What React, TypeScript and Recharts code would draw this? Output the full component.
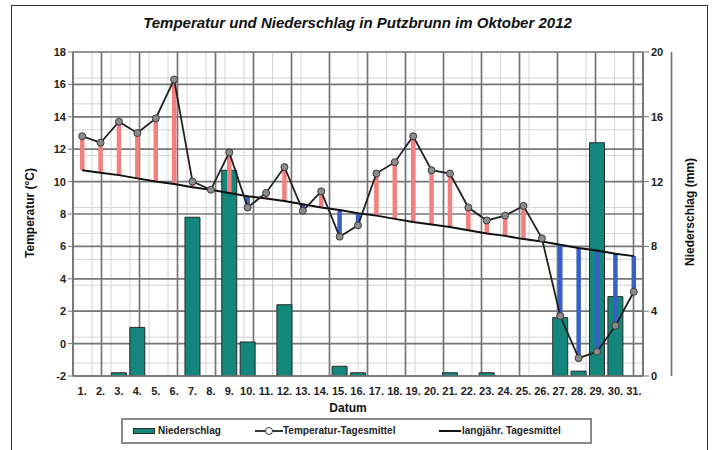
import { ComposedChart, Bar, Line, XAxis, YAxis, CartesianGrid, ErrorBar } from 'recharts';

// Tage im Oktober 2012 (Achsenbeschriftung)
const days = [
  '1.', '2.', '3.', '4.', '5.', '6.', '7.', '8.', '9.', '10.', '11.', '12.', '13.', '14.', '15.', '16.',
  '17.', '18.', '19.', '20.', '21.', '22.', '23.', '24.', '25.', '26.', '27.', '28.', '29.', '30.', '31.',
];

// Temperatur-Tagesmittel (°C)
const temperatur = [
  12.8, 12.4, 13.7, 13.0, 13.9, 16.3, 10.0, 9.5, 11.8, 8.4, 9.3, 10.9, 8.2, 9.4, 6.6, 7.3,
  10.5, 11.2, 12.8, 10.7, 10.5, 8.4, 7.6, 7.9, 8.5, 6.5, 1.7, -0.9, -0.5, 1.1, 3.2,
];

// langjähriges Tagesmittel (°C)
const mittel = [
  10.7, 10.55, 10.4, 10.2, 10.0, 9.85, 9.65, 9.5, 9.3, 9.1, 8.95, 8.8, 8.6, 8.4, 8.25, 8.05,
  7.9, 7.7, 7.5, 7.35, 7.2, 7.0, 6.8, 6.65, 6.45, 6.3, 6.1, 5.9, 5.75, 5.55, 5.4,
];

// Niederschlag (mm)
const niederschlag = [
  0, 0, 0.2, 3.0, 0, 0, 9.8, 0, 12.7, 2.1, 0, 4.4, 0, 0, 0.6, 0.2,
  0, 0, 0, 0, 0.2, 0, 0.2, 0, 0, 0, 3.6, 0.3, 14.4, 4.9, 0,
];

const tempTicks = [-2, 0, 2, 4, 6, 8, 10, 12, 14, 16, 18];
const nsTicks = [0, 4, 8, 12, 16, 20];

// Gitter: Hauptlinien an den Tagesgrenzen, Hilfslinien geviertelt bzw. alle 0,4 °C
const majorXTicks = Array.from({ length: 32 }, (_, i) => i + 0.5);
const minorXTicks = Array.from({ length: 125 }, (_, i) => 0.5 + i * 0.25);
const minorYTicks = Array.from({ length: 51 }, (_, i) => Math.round((-2 + i * 0.4) * 10) / 10);

const chartData = days.map((day, i) => {
  const t = temperatur[i];
  const m = mittel[i];
  return {
    day,
    temp: t,
    mittel: m,
    ns: niederschlag[i],
    // Abweichung vom langjährigen Mittel als Fehlerbalken (rot = wärmer, blau = kälter)
    warm: t > m ? [t - m, 0] : [0, 0],
    kalt: t < m ? [0, m - t] : [0, 0],
  };
});

const FONT = '"Liberation Sans", Arial, sans-serif';
const tickStyle = { fontFamily: FONT, fontSize: 11, fontWeight: 700, fill: '#222' };
const TEAL = '#14877c';
const GRID = '#767676';

export default function App() {
  return (
    <div style={{ position: 'absolute', left: 0, top: 0, width: 715, height: 450, background: '#fff', overflow: 'hidden', fontFamily: FONT }}>
      {/* Rahmen */}
      <div style={{ position: 'absolute', left: 11, top: 5, width: 697, height: 470, boxSizing: 'border-box', borderLeft: '1.5px solid #333', borderTop: '1.5px solid #333', borderRight: '1.5px solid #333' }} />

      <div style={{ position: 'absolute', left: 0, top: 14, width: 715, textAlign: 'center', fontSize: 15, fontWeight: 700, fontStyle: 'italic', color: '#111' }}>
        Temperatur und Niederschlag in Putzbrunn im Oktober 2012
      </div>

      <ComposedChart width={715} height={450} data={chartData} margin={{ top: 52, right: 32, bottom: 44, left: 33 }} barCategoryGap="9%">
        <XAxis xAxisId="minorX" type="number" domain={[0.5, 31.5]} ticks={minorXTicks} allowDataOverflow hide height={0} />
        <XAxis xAxisId="majorX" type="number" domain={[0.5, 31.5]} ticks={majorXTicks} allowDataOverflow hide height={0} />
        <YAxis yAxisId="minorY" type="number" orientation="right" domain={[-2, 18]} ticks={minorYTicks} allowDataOverflow hide width={0} />

        <CartesianGrid xAxisId="minorX" yAxisId="minorY" stroke="#d4d4d4" strokeWidth={1} />
        <CartesianGrid xAxisId="majorX" yAxisId="t" stroke={GRID} strokeWidth={1.7} />

        <XAxis
          dataKey="day"
          interval={0}
          tickLine={false}
          tickSize={9}
          height={30}
          tick={tickStyle}
          axisLine={{ stroke: GRID, strokeWidth: 1.7 }}
        />
        <YAxis
          yAxisId="t"
          domain={[-2, 18]}
          ticks={tempTicks}
          interval={0}
          width={40}
          tickSize={5}
          tick={tickStyle}
          tickLine={{ stroke: GRID }}
          axisLine={{ stroke: GRID, strokeWidth: 1.7 }}
          allowDataOverflow
        />
        <YAxis
          yAxisId="n"
          orientation="right"
          domain={[0, 20]}
          ticks={nsTicks}
          interval={0}
          width={40}
          tickSize={6}
          tick={tickStyle}
          tickLine={{ stroke: GRID }}
          axisLine={{ stroke: GRID, strokeWidth: 1.7 }}
          allowDataOverflow
        />

        <Bar yAxisId="n" dataKey="ns" fill={TEAL} stroke="#2a2a2a" strokeWidth={1} isAnimationActive={false} />

        {/* Abweichungen vom langjährigen Mittel */}
        <Line yAxisId="t" dataKey="temp" stroke="none" dot={false} activeDot={false} legendType="none" isAnimationActive={false}>
          <ErrorBar dataKey="warm" direction="y" width={0} stroke="#f47f7f" strokeWidth={4.5} />
          <ErrorBar dataKey="kalt" direction="y" width={0} stroke="#3a5fc4" strokeWidth={4.5} />
        </Line>

        <Line yAxisId="t" dataKey="mittel" type="linear" stroke="#111" strokeWidth={2} dot={false} activeDot={false} isAnimationActive={false} />
        <Line
          yAxisId="t"
          dataKey="temp"
          type="linear"
          stroke="#222"
          strokeWidth={1.8}
          dot={{ r: 3.5, fill: '#8c8c8c', stroke: '#3a3a3a', strokeWidth: 1 }}
          activeDot={false}
          isAnimationActive={false}
        />
      </ComposedChart>

      {/* Achsentitel */}
      <div style={{ position: 'absolute', left: 30, top: 213, transform: 'translate(-50%, -50%) rotate(-90deg)', whiteSpace: 'nowrap', fontSize: 12, fontWeight: 700, color: '#111' }}>
        Temperatur (°C)
      </div>
      <div style={{ position: 'absolute', left: 690, top: 212, transform: 'translate(-50%, -50%) rotate(-90deg)', whiteSpace: 'nowrap', fontSize: 12, fontWeight: 700, color: '#111' }}>
        Niederschlag (mm)
      </div>
      <div style={{ position: 'absolute', left: 348, top: 408, transform: 'translate(-50%, -50%)', fontSize: 12, fontWeight: 700, color: '#111' }}>
        Datum
      </div>

      {/* Legende */}
      <div style={{ position: 'absolute', left: 121, top: 418, width: 471, height: 26, boxSizing: 'border-box', border: '2px solid #8a8a8a', fontSize: 10, fontWeight: 700, color: '#222' }}>
        <div style={{ position: 'absolute', left: 10, top: 8, width: 22, height: 6, background: TEAL, border: '1px solid #2a2a2a', boxSizing: 'border-box' }} />
        <div style={{ position: 'absolute', left: 35, top: 5 }}>Niederschlag</div>

        <svg style={{ position: 'absolute', left: 132, top: 5 }} width={28} height={12}>
          <line x1={0} y1={6} x2={28} y2={6} stroke="#222" strokeWidth={1.8} />
          <circle cx={14} cy={6} r={3.5} fill="#fff" stroke="#3a3a3a" strokeWidth={1} />
        </svg>
        <div style={{ position: 'absolute', left: 160, top: 5 }}>Temperatur-Tagesmittel</div>

        <svg style={{ position: 'absolute', left: 316, top: 5 }} width={22} height={12}>
          <line x1={0} y1={6} x2={22} y2={6} stroke="#111" strokeWidth={2} />
        </svg>
        <div style={{ position: 'absolute', left: 339, top: 5 }}>langjähr. Tagesmittel</div>
      </div>
    </div>
  );
}
